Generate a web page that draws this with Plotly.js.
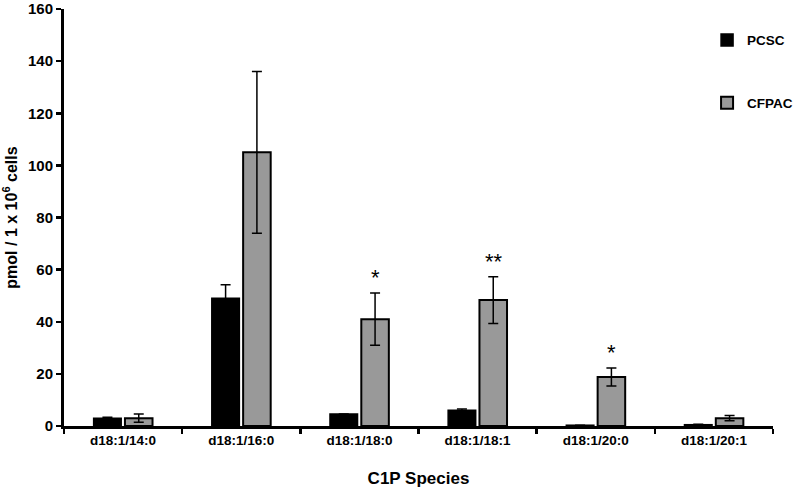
<!DOCTYPE html>
<html><head><meta charset="utf-8">
<script src="https://cdn.plot.ly/plotly-3.0.1.min.js"></script>
<style>html,body{margin:0;padding:0;background:#fff}#chart{width:800px;height:492px}</style>
</head><body><div id="chart"></div>
<script>
const categories = ["d18:1/14:0","d18:1/16:0","d18:1/18:0","d18:1/18:1","d18:1/20:0","d18:1/20:1"];
const pcscValues = [3.0, 49.0, 4.6, 6.0, 0.3, 0.5];
const pcscErrors = [0.4, 5.2, 0, 0.5, 0, 0.2];
const cfpacValues = [3.0, 105.0, 41.0, 48.3, 18.8, 3.0];
const cfpacErrors = [1.6, 31.0, 10.0, 9.0, 3.5, 1.0];
const significance = ["", "", "*", "**", "*", ""];
const yTicks = [0, 20, 40, 60, 80, 100, 120, 140, 160];

const font = "Liberation Sans, Arial, sans-serif";
const traces = [
  {type:"bar", name:"PCSC", x:categories, y:pcscValues, legendgroup:"a",
   marker:{color:"#000000", line:{color:"#000000", width:1.5}},
   error_y:{type:"data", array:pcscErrors, visible:true, color:"#000", thickness:1.5, width:5}},
  {type:"bar", name:"CFPAC", x:categories, y:cfpacValues, legendgroup:"b",
   marker:{color:"#999999", line:{color:"#000000", width:2}},
   error_y:{type:"data", array:cfpacErrors, visible:true, color:"#000", thickness:1.5, width:5}}
];
const annotations = [];
significance.forEach((s,i)=>{
  if(!s) return;
  annotations.push({x:categories[i], y:cfpacValues[i]+cfpacErrors[i], xref:"x", yref:"y",
    text:s, showarrow:false, xshift:16, yanchor:"bottom", yshift:1,
    font:{family:font, size:22, color:"#000"}});
});
const layout = {
  width:800, height:492,
  margin:{l:64, r:2, t:9, b:66},
  paper_bgcolor:"#fff", plot_bgcolor:"#fff",
  barmode:"group", bargap:0.47, bargroupgap:0.12,
  showlegend:true,
  legend:{x:0.907, y:0.962, xanchor:"left", yanchor:"top", tracegroupgap:42,
    font:{family:font, size:13.5, color:"#000", weight:"bold"}, itemwidth:30, bgcolor:"rgba(0,0,0,0)"},
  xaxis:{type:"category", showline:true, linecolor:"#000", linewidth:2.5, ticks:"outside",
    tickson:"boundaries", ticklen:5, tickwidth:2.5, tickcolor:"#000", showgrid:false, zeroline:false,
    tickfont:{family:font, size:13.5, color:"#000", weight:"bold"},
    title:{text:"C1P Species", font:{family:font, size:17, color:"#000", weight:"bold"}, standoff:26}},
  yaxis:{range:[0,160.0001], tickmode:"array", tickvals:yTicks, ticktext:yTicks.map(String),
    ticklabeloverflow:"allow",
    showline:true, linecolor:"#000", linewidth:3, ticks:"outside",
    ticklen:5, tickwidth:2.5, tickcolor:"#000", showgrid:false, zeroline:false,
    tickfont:{family:font, size:15, color:"#000", weight:"bold"},
    title:{text:"pmol / 1 x 10<sup>6</sup> cells", font:{family:font, size:16, color:"#000", weight:"bold"}, standoff:8}},
  annotations:annotations
};
Plotly.newPlot("chart", traces, layout, {displayModeBar:false, staticPlot:true});
</script></body></html>
